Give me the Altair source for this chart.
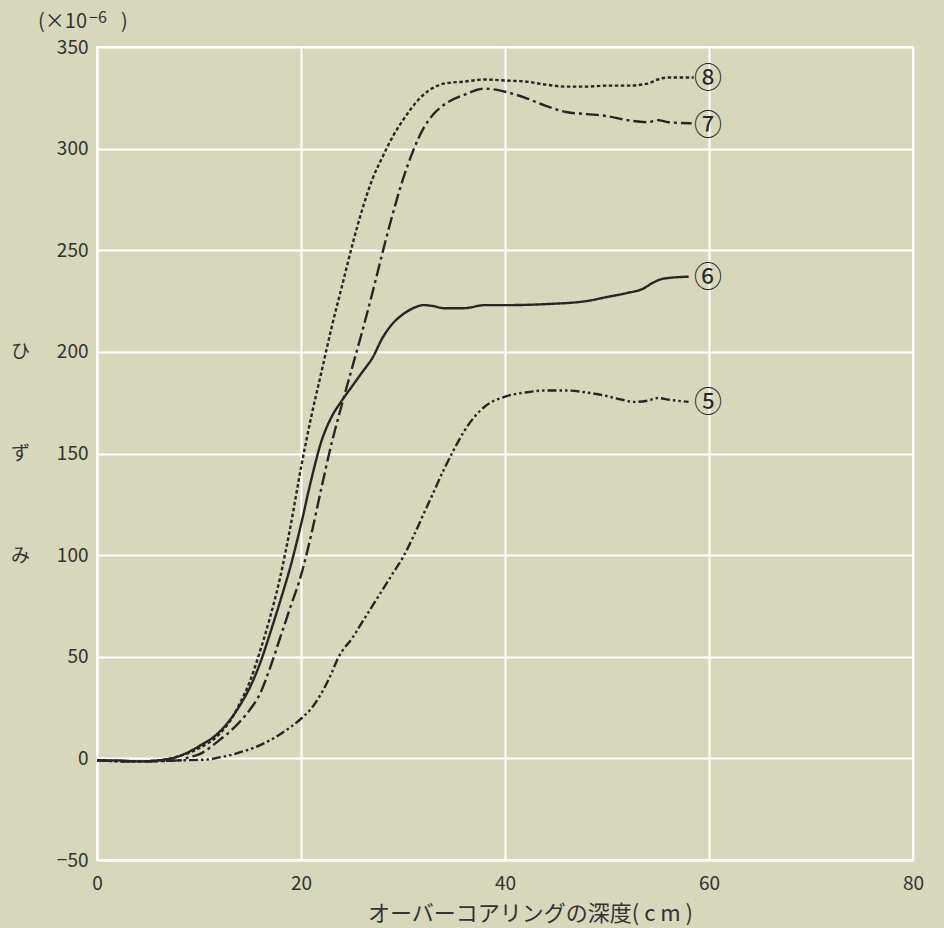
import altair as alt
import pandas as pd

BG = "#d7d7bc"
INK = "#262626"
TXT = "#333333"
FONT = "Noto Sans CJK JP"

# Curve 8 (dotted)
x8 = [0, 4, 6, 8, 10, 12, 13, 14, 15, 16, 17, 18, 19, 20, 21, 22, 23, 24, 25, 26, 27, 28,
      29, 30, 31, 32, 33, 34, 36, 38, 40, 42, 44, 46, 48, 50, 52, 54, 55, 56, 58.5]
y8 = [-1, -1.5, -1, 1, 5, 12, 18, 27, 38, 53, 70, 90, 115, 143, 168, 190, 212, 232, 252, 270, 285, 296,
      306, 314, 321, 326.5, 330, 332, 333, 334, 333.5, 333, 331.5, 330.5, 330.5, 331, 331, 332, 334, 335, 335]

# Curve 7 (long dash - dot)
x7 = [0, 4, 8, 9, 10, 11, 12, 13, 14, 15, 16, 17, 18, 19, 20, 21, 22, 23, 24, 25, 26, 27, 28, 29,
      30, 31, 32, 33, 34, 36, 38, 40, 42, 44, 46, 48, 50, 52, 54, 55, 56, 58.3]
y7 = [-1, -1.5, -1, 0.5, 2, 5, 9, 13, 18, 24, 32, 45, 60, 75, 90, 110, 133, 155, 174, 192, 210, 229, 249, 268,
      285, 299, 310, 317, 321.5, 326.5, 329.5, 328, 325, 321, 318, 317, 316, 314, 313, 314, 313, 312.5]

# Curve 6 (solid)
x6 = [0, 2, 4, 6, 8, 10, 12, 14, 15, 16, 17, 18, 19, 20, 21, 22, 23, 24, 25, 26, 27, 28, 29, 30,
      31, 32, 33, 34, 36, 38, 40, 44, 48, 50, 52, 53.5, 54.5, 55.5, 58]
y6 = [-1, -1, -1.5, -1, 1, 6, 13, 26, 35, 47, 62, 78, 95, 115, 137, 156, 168, 176, 183, 190, 197, 207, 214, 218.5,
      221.5, 223, 222.5, 221.5, 221.5, 223, 223, 223.5, 225, 227, 229, 231, 234, 236, 237]

# Curve 5 (dash - dot - dot)
x5 = [0, 4, 8, 11, 12, 13, 14, 15, 16, 17, 18, 19, 20, 21, 22, 23, 23.6, 24, 25, 26, 27, 28, 29, 30,
      31, 32, 33, 34, 35, 36, 37, 38, 40, 42, 44, 46, 48, 49.5, 51, 52.7, 54, 55, 56, 58]
y5 = [-1, -1.5, -1, -0.5, 0.5, 1.5, 3, 4.5, 6.5, 9, 12, 15.5, 19.5, 24.5, 32, 42, 49, 52.5, 59, 67, 75, 83, 91, 99,
      109, 120, 131, 142, 152, 161, 168, 173, 178, 180, 181, 181, 180, 178.8, 177, 175.4, 176, 177.3, 176.5, 175.4]

series_names = ["8", "7", "6", "5"]
series_x = [x8, x7, x6, x5]
series_y = [y8, y7, y6, y5]

label_text = ["⑧", "⑦", "⑥", "⑤"]
label_x = [59.9, 59.9, 59.9, 59.9]
label_y = [334, 310.8, 236, 174.5]

x_ticks = [0, 20, 40, 60, 80]
y_ticks = [-50, 0, 50, 100, 150, 200, 250, 300, 350]

unit_main = "(×10"
unit_exp = "−6"
unit_close = ")"
y_title = ["ひ", "ず", "み"]
x_title = "オーバーコアリングの深度( c m )"

rows = []
for name, xs, ys in zip(series_names, series_x, series_y):
    for a, b in zip(xs, ys):
        rows.append({"series": name, "depth": a, "strain": b})
df = pd.DataFrame(rows)
lab = pd.DataFrame({"t": label_text, "depth": label_x, "strain": label_y})

xscale = alt.Scale(domain=[0, 80], nice=False)
yscale = alt.Scale(domain=[-50, 350], nice=False)

xaxis = alt.Axis(values=x_ticks, title=x_title, titleX=433, titleAlign="center", titleY=53,
                 titleBaseline="middle", labelPadding=14, titleFontSize=22, labelFlush=False)
yaxis = alt.Axis(values=y_ticks, title=y_title, titleAngle=0, titleX=-77,
                 titleY=304, titleAlign="center", titleBaseline="middle",
                 titleLineHeight=102, labelPadding=9, titleFontSize=19, labelFlush=False)

lines = alt.Chart(df).mark_line(strokeWidth=2.4, color=INK, interpolate="monotone").encode(
    x=alt.X("depth:Q", scale=xscale, axis=xaxis),
    y=alt.Y("strain:Q", scale=yscale, axis=yaxis),
    detail="series:N",
    strokeDash=alt.StrokeDash(
        "series:N",
        scale=alt.Scale(domain=series_names,
                        range=[[3.5, 2.5], [13, 4, 3, 4], [1, 0], [9, 3, 2.5, 3, 2.5, 3]]),
        legend=None,
    ),
)

labels = alt.Chart(lab).mark_text(font=FONT, fontSize=28, color=INK, align="center",
                                  baseline="middle").encode(
    x=alt.X("depth:Q", scale=xscale),
    y=alt.Y("strain:Q", scale=yscale),
    text="t:N",
)

unit_df = pd.DataFrame({"t": [unit_main]})
exp_df = pd.DataFrame({"t": [unit_exp]})
close_df = pd.DataFrame({"t": [unit_close]})
u1 = alt.Chart(unit_df).mark_text(font=FONT, fontSize=20, color=TXT, align="right",
                                  baseline="middle").encode(
    x=alt.value(-10), y=alt.value(-25), text="t:N")
u2 = alt.Chart(exp_df).mark_text(font=FONT, fontSize=16, color=TXT, align="left",
                                 baseline="middle").encode(
    x=alt.value(-8), y=alt.value(-29), text="t:N")
u3 = alt.Chart(close_df).mark_text(font=FONT, fontSize=20, color=TXT, align="left",
                                   baseline="middle").encode(
    x=alt.value(24), y=alt.value(-25), text="t:N")

chart = alt.layer(lines, labels, u1, u2, u3).properties(
    width=816, height=813,
    autosize=alt.AutoSizeParams(type="none"),
    padding={"left": 97, "top": 47, "right": 31, "bottom": 68},
    background=BG,
).configure_view(
    fill=BG, stroke="white", strokeWidth=2
).configure_axis(
    grid=True, gridColor="white", gridWidth=2, gridOpacity=1,
    domainColor="white", domainWidth=2, ticks=False,
    labelFont=FONT, labelFontSize=19, labelColor=TXT,
    titleFont=FONT, titleFontWeight="normal", titleColor=TXT,
)

chart.save("out.html", embed_options={"renderer": "svg", "actions": False})
